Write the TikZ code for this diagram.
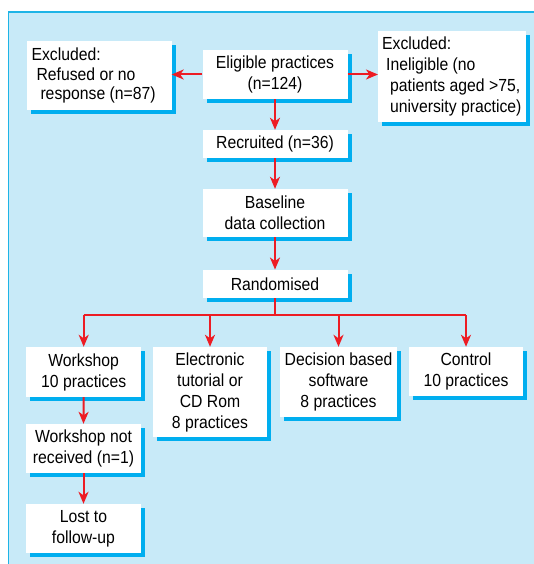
\documentclass[tikz,border=0pt]{standalone}
\usepackage{fontspec}
\setmainfont{Liberation Sans}[FakeStretch=0.9]
\usetikzlibrary{arrows.meta}
\usetikzlibrary{shadows}
\definecolor{panelblue}{RGB}{200,234,248}
\definecolor{edgecyan}{RGB}{30,180,230}
\definecolor{shadecyan}{RGB}{0,174,239}
\definecolor{flowred}{RGB}{237,28,36}
\tikzset{>={Stealth[length=12pt,width=10pt,inset=3.5pt]}}
\tikzset{%
  box/.style={fill=white, inner xsep=5pt, inner ysep=0pt, align=center,
    drop shadow={shadow xshift=4pt, shadow yshift=-4pt, fill=shadecyan, opacity=1},
    font=\fontsize{17.5pt}{21pt}\selectfont},
  leftbox/.style={box, align=left, execute at begin node={\spaceskip=0pt\xspaceskip=0pt\relax}},
  flow/.style={->, draw=flowred, line width=2pt},
  link/.style={draw=flowred, line width=2pt}
}

\begin{document}
\begin{tikzpicture}[x=1pt,y=-1pt]

  % canvas and blue panel
  \fill[white] (0,0) rectangle (534,564);
  \useasboundingbox (0,0) rectangle (534,564);
  \fill[panelblue] (8.5,12) rectangle (534,564);
  \draw[edgecyan, line width=1.5pt] (8.5,564) -- (8.5,12) -- (534,12);

  % top row
  \node[box, minimum width=145pt, minimum height=49pt] (elig) at (275,74.5) {Eligible practices\\(n=124)};
  \node[leftbox, text width=135pt, minimum height=69pt, font=\fontsize{17.5pt}{19.5pt}\selectfont] (refused) at (99,75.5)
    {Excluded:\\\hspace*{5pt}Refused or no\\\hspace*{9pt}response (n=87)};
  \node[leftbox, anchor=west, inner xsep=4pt, minimum width=145.5pt, minimum height=91pt] (inelig) at (378,76.5)
    {Excluded:\\\hspace*{4pt}Ineligible (no\\\hspace*{8pt}patients aged >75,\\\hspace*{8pt}university practice)};

  % centre column
  \node[box, minimum width=145pt, minimum height=28pt] (recr) at (275,144) {Recruited (n=36)};
  \node[box, minimum width=145pt, minimum height=48pt] (base) at (275,213) {Baseline\\data collection};
  \node[box, minimum width=145pt, minimum height=28.5pt] (rand) at (275,284) {Randomised};

  % the four arms
  \node[box, minimum width=114.5pt, minimum height=50pt] (work) at (83.7,372) {Workshop\\10 practices};
  \node[box, minimum width=114pt, minimum height=90pt] (elec) at (210,392) {Electronic\\tutorial or\\CD Rom\\8 practices};
  \node[box, minimum width=115pt, minimum height=70pt] (dec) at (338.5,382) {Decision based\\software\\8 practices};
  \node[box, minimum width=114.5pt, minimum height=49pt] (ctrl) at (466,371.5) {Control\\10 practices};

  % workshop follow-up
  \node[box, minimum width=115pt, minimum height=49pt] (wnot) at (83.5,448.5) {Workshop not\\received (n=1)};
  \node[box, minimum width=115pt, minimum height=49pt] (lost) at (83.5,528.5) {Lost to\\follow-up};

  % connectors
  \draw[flow] (elig.west) -- (elig.west -| refused.east);
  \draw[flow] (elig.east) -- (elig.east -| inelig.west);
  \draw[flow] (elig.south) -- (recr.north);
  \draw[flow] (recr.south) -- (base.north);
  \draw[flow] (base.south) -- (rand.north);

  \coordinate (split) at (275,315);
  \draw[link] (rand.south) -- (split);
  \draw[link] (work.north |- split) -- (ctrl.north |- split);
  \foreach \arm in {work,elec,dec,ctrl}
    \draw[flow] (\arm.north |- split) -- (\arm.north);

  \draw[flow] (work.south) -- (wnot.north);
  \draw[flow] (wnot.south) -- (lost.north);

\end{tikzpicture}
\end{document}
